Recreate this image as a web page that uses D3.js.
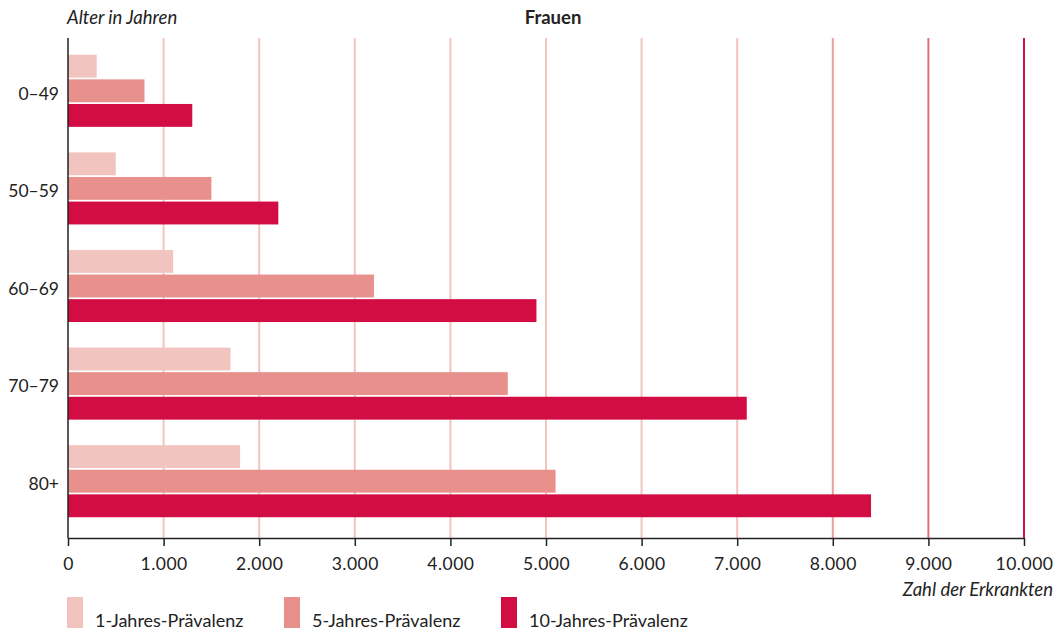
<!DOCTYPE html>
<html><head><meta charset="utf-8">
<script src="https://cdn.jsdelivr.net/npm/d3@7"></script>
<style>
body{margin:0;background:#fff;}
text{font-family:Lato,"Open Sans",sans-serif;fill:#222;}
</style></head>
<body>
<svg id="c" width="1064" height="633"></svg>
<script>
const categories = ["0–49","50–59","60–69","70–79","80+"];
const seriesNames = ["1-Jahres-Prävalenz","5-Jahres-Prävalenz","10-Jahres-Prävalenz"];
const prev1 = [300, 500, 1100, 1700, 1800];
const prev5 = [800, 1500, 3200, 4600, 5100];
const prev10 = [1300, 2200, 4900, 7100, 8400];
const tickValues = [0,1000,2000,3000,4000,5000,6000,7000,8000,9000,10000];
const tickLabels = ["0","1.000","2.000","3.000","4.000","5.000","6.000","7.000","8.000","9.000","10.000"];
const seriesColors = ["#f2c4bf","#e8908c","#d20d44"];
const gridColors = ["#f2c4bf","#f2c4bf","#f2c4bf","#f2c4bf","#f2c4bf","#f2c4bf","#f2c4bf","#f2c4bf","#eb9f9a","#e07072","#d3103f"];

(function(){
const series = [prev1, prev5, prev10];
const svg = d3.select("#c");
const mLeft = 68, mRight = 1024, mTop = 38, mBottom = 538;

const x = d3.scaleLinear().domain([0,10000]).range([mLeft,mRight]);
const y = d3.scaleBand().domain(categories).range([42,530]).paddingInner(0.2615).paddingOuter(0.1308);
const y1 = d3.scaleBand().domain(d3.range(3)).range([0,y.bandwidth()]).paddingInner(0.07);

// gridlines
svg.append("g").selectAll("line").data(tickValues.slice(1)).join("line")
  .attr("x1",d=>x(d)).attr("x2",d=>x(d)).attr("y1",mTop).attr("y2",mBottom)
  .attr("stroke",(d,i)=>gridColors[i+1]).attr("stroke-width",2);

// bars
const g = svg.append("g");
categories.forEach((c,ci)=>{
  series.forEach((s,si)=>{
    g.append("rect").attr("x",x(0)).attr("y",y(c)+y1(si))
      .attr("width",x(s[ci])-x(0)).attr("height",y1.bandwidth())
      .attr("fill",seriesColors[si]);
  });
});

// x axis
const xAxis = d3.axisBottom(x).tickValues(tickValues).tickFormat((d,i)=>tickLabels[i]).tickSize(8).tickSizeOuter(0);
const xa = svg.append("g").attr("transform",`translate(0,${mBottom})`).call(xAxis);
xa.select(".domain").attr("stroke","#222").attr("stroke-width",1.5);
xa.selectAll(".tick line").attr("stroke","#222").attr("stroke-width",1.5);
xa.selectAll(".tick text").attr("font-size",17.5).attr("dy","1.2em").style("font-family","Lato,sans-serif").attr("fill","#222").style("letter-spacing","0.5px");

// y axis
const yAxis = d3.axisLeft(y).tickSize(0).tickSizeOuter(0).tickPadding(9);
const ya = svg.append("g").attr("transform",`translate(${mLeft},0)`).call(yAxis);
ya.select(".domain").attr("stroke","#222").attr("stroke-width",1.5).attr("d",`M0,${mTop}V${mBottom}`);
ya.selectAll(".tick text").attr("font-size",17.5).attr("dy","0.5em").style("font-family","Lato,sans-serif").attr("fill","#222");

// titles
svg.append("text").attr("x",67).attr("y",24).attr("font-size",18.5).attr("font-style","italic").text("Alter in Jahren");
svg.append("text").attr("x",553).attr("y",24).attr("font-size",18.5).attr("font-weight","bold").attr("text-anchor","middle").text("Frauen");
svg.append("text").attr("x",1053).attr("y",596).attr("font-size",18.5).attr("font-style","italic").attr("text-anchor","end").text("Zahl der Erkrankten");

// legend
const legX = [67, 284, 501];
seriesNames.forEach((n,i)=>{
  svg.append("rect").attr("x",legX[i]).attr("y",597).attr("width",16).attr("height",31).attr("fill",seriesColors[i]);
  svg.append("text").attr("x",legX[i]+28).attr("y",627).attr("font-size",18).text(n);
});
})();
</script>
</body></html>
